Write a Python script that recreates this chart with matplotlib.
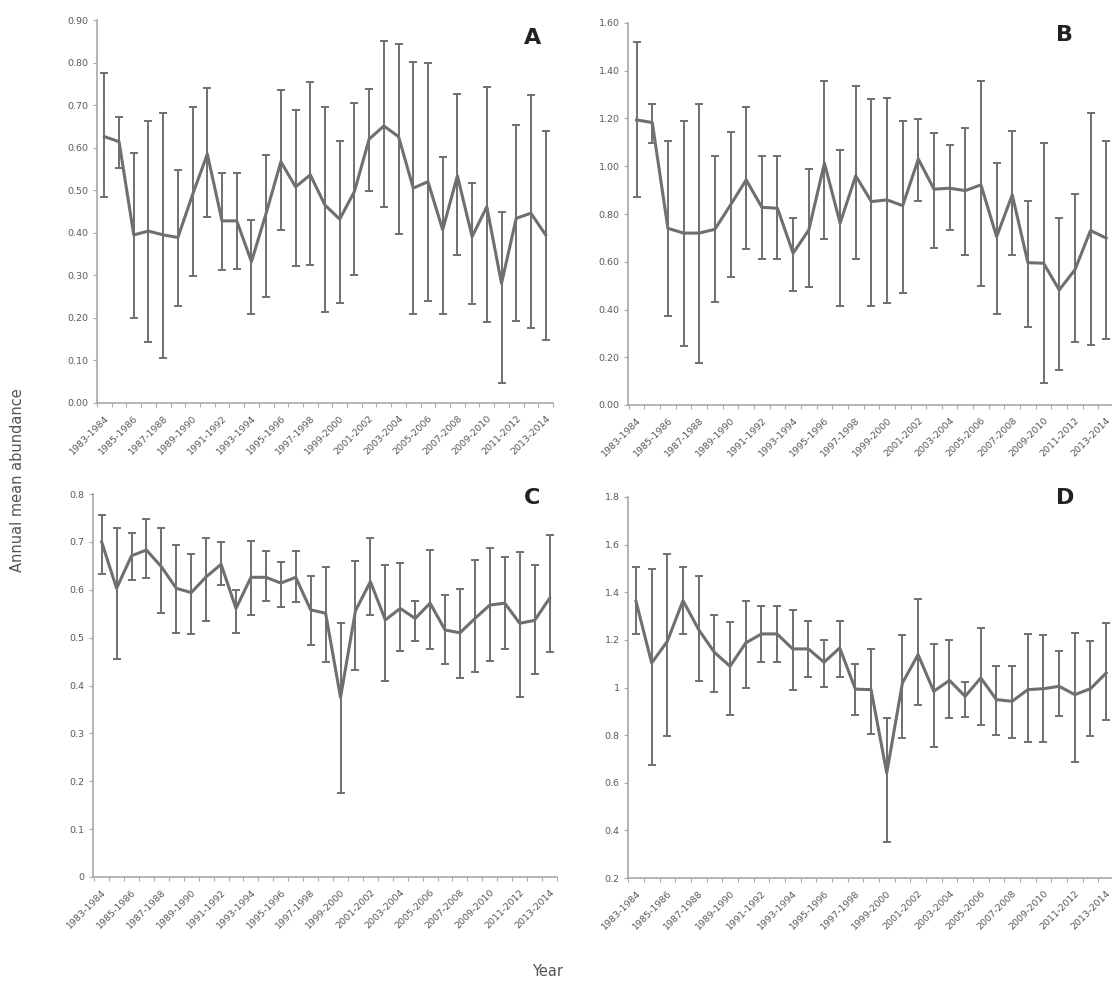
import numpy as np
import matplotlib
matplotlib.use('Agg')
import matplotlib.pyplot as plt
from matplotlib.ticker import FixedLocator, FuncFormatter

seasons = [f'{y}-{y + 1}' for y in range(1983, 2014)]

a_mean = [0.626, 0.614, 0.395, 0.404, 0.395, 0.389, 0.49, 0.585, 0.428, 0.428, 0.332,
          0.446, 0.567, 0.508, 0.536, 0.465, 0.432, 0.497, 0.62, 0.651, 0.626, 0.505,
          0.52, 0.407, 0.534, 0.391, 0.461, 0.281, 0.434, 0.446, 0.395]
a_upper = [0.776, 0.673, 0.587, 0.663, 0.682, 0.548, 0.695, 0.741, 0.541, 0.541, 0.43,
           0.583, 0.736, 0.689, 0.755, 0.696, 0.616, 0.706, 0.737, 0.851, 0.844, 0.801,
           0.80, 0.577, 0.725, 0.516, 0.742, 0.45, 0.653, 0.724, 0.639]
a_lower = [0.483, 0.552, 0.199, 0.143, 0.105, 0.228, 0.298, 0.438, 0.313, 0.314, 0.208,
           0.25, 0.407, 0.323, 0.324, 0.213, 0.236, 0.301, 0.499, 0.46, 0.396, 0.209,
           0.24, 0.209, 0.348, 0.232, 0.19, 0.046, 0.193, 0.176, 0.148]

b_mean = [1.194, 1.183, 0.74, 0.72, 0.72, 0.736, 0.838, 0.943, 0.828, 0.824, 0.636,
          0.733, 1.013, 0.762, 0.96, 0.852, 0.859, 0.835, 1.03, 0.904, 0.908, 0.898,
          0.922, 0.705, 0.88, 0.596, 0.594, 0.482, 0.566, 0.731, 0.699]
b_upper = [1.52, 1.262, 1.104, 1.19, 1.26, 1.045, 1.145, 1.248, 1.044, 1.044, 0.782,
           0.988, 1.358, 1.069, 1.338, 1.281, 1.285, 1.19, 1.199, 1.141, 1.09, 1.162,
           1.358, 1.013, 1.148, 0.855, 1.097, 0.782, 0.883, 1.223, 1.106]
b_lower = [0.873, 1.099, 0.374, 0.249, 0.175, 0.43, 0.538, 0.652, 0.613, 0.613, 0.478,
           0.496, 0.696, 0.415, 0.611, 0.415, 0.429, 0.471, 0.856, 0.657, 0.733, 0.629,
           0.499, 0.38, 0.629, 0.328, 0.091, 0.147, 0.265, 0.251, 0.275]

c_mean = [0.70, 0.603, 0.671, 0.683, 0.648, 0.603, 0.594, 0.627, 0.653, 0.561, 0.626,
          0.626, 0.614, 0.626, 0.558, 0.551, 0.375, 0.556, 0.617, 0.537, 0.561, 0.54,
          0.572, 0.516, 0.51, 0.54, 0.568, 0.572, 0.53, 0.536, 0.582]
c_upper = [0.756, 0.73, 0.719, 0.747, 0.728, 0.693, 0.675, 0.709, 0.70, 0.60, 0.702,
           0.681, 0.657, 0.68, 0.629, 0.648, 0.53, 0.661, 0.709, 0.652, 0.655, 0.577,
           0.683, 0.589, 0.601, 0.662, 0.687, 0.668, 0.679, 0.652, 0.714]
c_lower = [0.632, 0.455, 0.62, 0.624, 0.552, 0.51, 0.507, 0.535, 0.61, 0.51, 0.547,
           0.577, 0.563, 0.575, 0.485, 0.449, 0.175, 0.433, 0.547, 0.41, 0.472, 0.492,
           0.476, 0.445, 0.415, 0.428, 0.452, 0.476, 0.375, 0.424, 0.469]

d_mean = [1.362, 1.103, 1.194, 1.365, 1.243, 1.148, 1.089, 1.187, 1.225, 1.225, 1.162,
          1.162, 1.106, 1.166, 0.993, 0.991, 0.641, 1.019, 1.138, 0.984, 1.03, 0.963,
          1.04, 0.949, 0.942, 0.991, 0.995, 1.005, 0.97, 0.995, 1.061]
d_upper = [1.505, 1.498, 1.562, 1.505, 1.47, 1.306, 1.275, 1.362, 1.341, 1.341, 1.327,
           1.281, 1.198, 1.281, 1.099, 1.163, 0.872, 1.219, 1.373, 1.183, 1.198, 1.022,
           1.25, 1.089, 1.089, 1.225, 1.222, 1.155, 1.229, 1.196, 1.271]
d_lower = [1.225, 0.676, 0.795, 1.225, 1.026, 0.98, 0.886, 1.0, 1.106, 1.106, 0.988,
           1.044, 1.002, 1.044, 0.886, 0.805, 0.35, 0.788, 0.928, 0.749, 0.872, 0.876,
           0.844, 0.802, 0.788, 0.77, 0.77, 0.879, 0.687, 0.795, 0.865]

W, H = 1112, 985
line_col = '#6f6f6f'
text_col = '#595959'
spine_col = '#a8a8a8'


def fmt_2dp(v, pos):
    return f'{v:.2f}'


def fmt_general(v, pos):
    return f'{v:g}'


# (data, y ticks, formatter, px box left/right/top/bottom, xlim, letter, letter pos)
panels = [
    ((a_mean, a_lower, a_upper), np.arange(0, 0.91, 0.1), fmt_2dp,
     (97, 553, 20, 403), (-0.35, 30.5), 'A', (533, 38)),
    ((b_mean, b_lower, b_upper), np.arange(0, 1.61, 0.2), fmt_2dp,
     (628, 1114, 23, 405), (-0.55, 30.45), 'B', (1065, 35)),
    ((c_mean, c_lower, c_upper), np.arange(0, 0.81, 0.1), fmt_general,
     (93, 557, 494, 877), (-0.58, 30.35), 'C', (532, 498)),
    ((d_mean, d_lower, d_upper), np.arange(0.2, 1.81, 0.2), fmt_general,
     (628, 1114, 497, 878), (-0.51, 30.3), 'D', (1065, 498)),
]

fig = plt.figure(figsize=(W / 100, H / 100), dpi=100)
x = np.arange(len(seasons))

for (mean, lower, upper), yt, fmt, (l, r, t, b), xl, letter, (lx, ly) in panels:
    ax = fig.add_axes([l / W, 1 - b / H, (r - l) / W, (b - t) / H])
    mean = np.array(mean)
    yerr = [mean - np.array(lower), np.array(upper) - mean]
    ax.errorbar(x, mean, yerr=yerr, color=line_col, lw=2.2, elinewidth=1.4,
                capsize=2.6, capthick=1.4, zorder=3)
    ax.set_xlim(*xl)
    ax.set_ylim(yt[0], yt[-1])
    ax.yaxis.set_major_locator(FixedLocator(yt))
    ax.yaxis.set_major_formatter(FuncFormatter(fmt))
    ax.set_xticks(x[::2])
    ax.set_xticklabels(seasons[::2], rotation=45, ha='right', rotation_mode='anchor')
    ax.set_xticks(np.arange(-0.5, len(seasons), 1), minor=True)
    for s in ('top', 'right'):
        ax.spines[s].set_visible(False)
    for s in ('left', 'bottom'):
        ax.spines[s].set_color(spine_col)
        ax.spines[s].set_linewidth(1.2)
    ax.tick_params(axis='both', which='both', colors=spine_col, labelcolor=text_col,
                   labelsize=6.8, length=3, width=0.8)
    ax.tick_params(axis='x', which='major', length=0, pad=8)
    ax.tick_params(axis='y', pad=3)
    fig.text(lx / W, 1 - ly / H, letter, fontsize=16, fontweight='bold',
             color='#222222', ha='center', va='center')

fig.text(18 / W, 1 - 480 / H, 'Annual mean abundance', rotation=90, fontsize=10.5,
         color='#555555', ha='center', va='center')
fig.text(548 / W, 1 - 972 / H, 'Year', fontsize=10.5, color='#555555',
         ha='center', va='center')

fig.savefig('out.png', dpi=100)
